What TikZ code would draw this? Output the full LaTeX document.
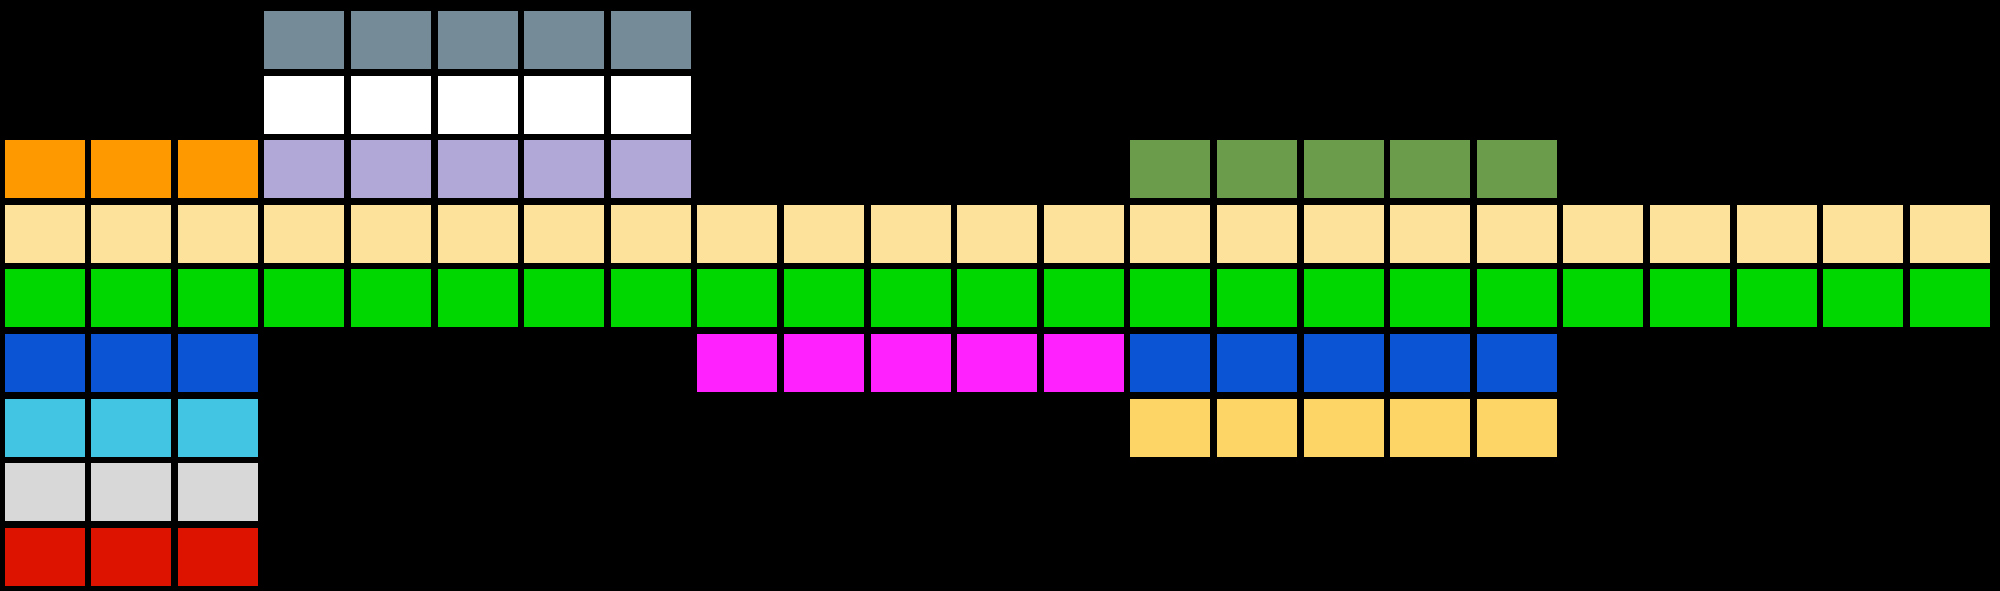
\documentclass[tikz,border=0pt]{standalone}
\definecolor{cslate}{HTML}{758C98}
\definecolor{cwhite}{HTML}{FFFFFF}
\definecolor{corange}{HTML}{FF9900}
\definecolor{clilac}{HTML}{B2A8D8}
\definecolor{cdgreen}{HTML}{6A9C4C}
\definecolor{ctan}{HTML}{FCE29A}
\definecolor{cgreen}{HTML}{00D600}
\definecolor{cblue}{HTML}{0B55D4}
\definecolor{cmag}{HTML}{FF22FF}
\definecolor{ccyan}{HTML}{42C4E3}
\definecolor{cyel}{HTML}{FDD567}
\definecolor{clgray}{HTML}{D8D8D8}
\definecolor{cred}{HTML}{DD1300}
\newcommand{\cellrow}[4]{%
  \foreach \c in {#2,...,#3}{%
    \fill[#4] ({4.5+(\c-1)*86.6},{11+#1*64.6}) rectangle ++(80,58);
  }%
}
\begin{document}
\begin{tikzpicture}[x=1pt,y=-1pt]
\fill[black] (0,0) rectangle (2000,591);
\useasboundingbox (0,0) rectangle (2000,591);
\cellrow{0}{4}{8}{cslate}
\cellrow{1}{4}{8}{cwhite}
\cellrow{2}{1}{3}{corange}
\cellrow{2}{4}{8}{clilac}
\cellrow{2}{14}{18}{cdgreen}
\cellrow{3}{1}{23}{ctan}
\cellrow{4}{1}{23}{cgreen}
\cellrow{5}{1}{3}{cblue}
\cellrow{5}{9}{13}{cmag}
\cellrow{5}{14}{18}{cblue}
\cellrow{6}{1}{3}{ccyan}
\cellrow{6}{14}{18}{cyel}
\cellrow{7}{1}{3}{clgray}
\cellrow{8}{1}{3}{cred}
\end{tikzpicture}
\end{document}
